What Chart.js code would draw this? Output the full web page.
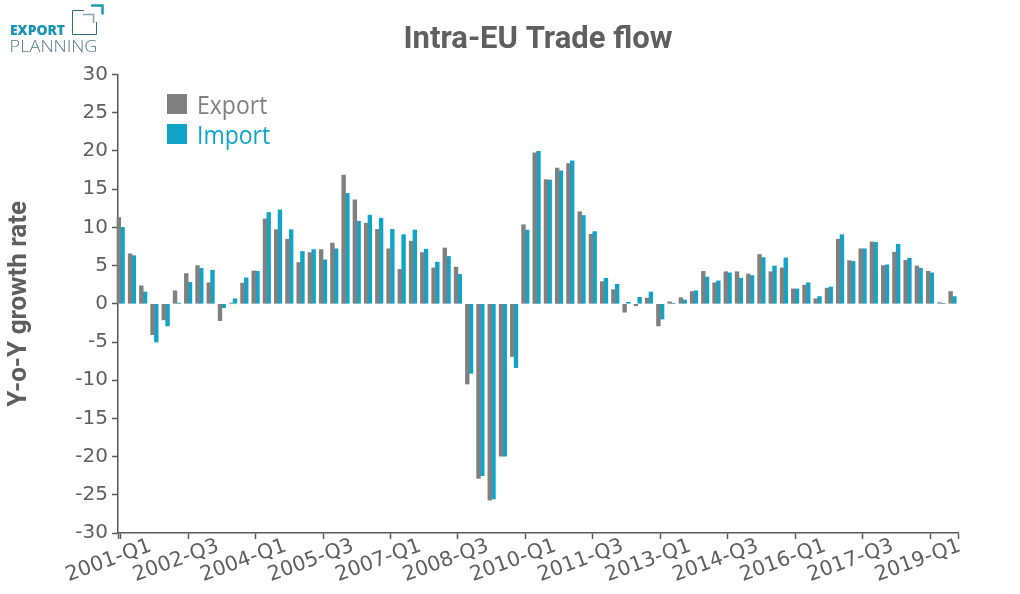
<!DOCTYPE html>
<html lang="en">
<head>
    <meta charset="UTF-8">
    <title>Intra-EU Trade flow</title>
    <script src="https://cdn.jsdelivr.net/npm/chart.js"></script>
    <style type="text/css">
        body{ margin: 0; background: #fff; }
        .wrap{ position: relative; width: 1020px; height: 594px; overflow: hidden; }
        #logo{ position: absolute; left: 0; top: 0; }
        .legend{ position: absolute; left: 167px; font: 23px "Open Sans"; line-height: 30px; height: 30px; }
        .legend i{ position: absolute; left: 0; top: 5px; width: 20px; height: 20px; }
        .legend span{ position: absolute; left: 30px; top: 0; transform: scaleY(1.08); }
    </style>
</head>
<body>
<div class="wrap">
    <canvas id="myChart" width="1020" height="594"></canvas>
    <svg id="logo" width="110" height="56">
        <path d="M91 5.5H102.5V14.5" fill="none" stroke="#1a9ab8" stroke-width="2.5"/>
        <path d="M83 14.5H93.5V23" fill="none" stroke="#8aa6b4" stroke-width="1.5"/>
        <path d="M84 10.5H72.5V34.5H96.5V22" fill="none" stroke="#2f6f8a" stroke-width="1"/>
        <text x="10" y="35" font-family="Open Sans" font-weight="800" font-size="13.5" fill="#1a94b4" textLength="55" lengthAdjust="spacingAndGlyphs">EXPORT</text>
        <text x="9.5" y="52" font-family="Open Sans" font-weight="300" font-size="16" fill="#55788c" textLength="88" lengthAdjust="spacingAndGlyphs">PLANNING</text>
    </svg>
    <div id="legend"></div>
</div>
<script>
    const quarters = [
        "2001-Q1","2001-Q2","2001-Q3","2001-Q4","2002-Q1","2002-Q2","2002-Q3","2002-Q4",
        "2003-Q1","2003-Q2","2003-Q3","2003-Q4","2004-Q1","2004-Q2","2004-Q3","2004-Q4",
        "2005-Q1","2005-Q2","2005-Q3","2005-Q4","2006-Q1","2006-Q2","2006-Q3","2006-Q4",
        "2007-Q1","2007-Q2","2007-Q3","2007-Q4","2008-Q1","2008-Q2","2008-Q3","2008-Q4",
        "2009-Q1","2009-Q2","2009-Q3","2009-Q4","2010-Q1","2010-Q2","2010-Q3","2010-Q4",
        "2011-Q1","2011-Q2","2011-Q3","2011-Q4","2012-Q1","2012-Q2","2012-Q3","2012-Q4",
        "2013-Q1","2013-Q2","2013-Q3","2013-Q4","2014-Q1","2014-Q2","2014-Q3","2014-Q4",
        "2015-Q1","2015-Q2","2015-Q3","2015-Q4","2016-Q1","2016-Q2","2016-Q3","2016-Q4",
        "2017-Q1","2017-Q2","2017-Q3","2017-Q4","2018-Q1","2018-Q2","2018-Q3","2018-Q4",
        "2019-Q1","2019-Q2","2019-Q3"
    ];
    const exportValues = [
        11.3,6.55,2.35,-4.05,-2.1,1.7,3.95,5.0,2.75,-2.2,0.1,2.7,4.3,11.1,9.7,8.45,5.4,6.7,
        7.1,7.95,16.85,13.6,10.55,9.75,7.2,4.5,8.2,6.7,4.7,7.3,4.8,-10.5,-22.85,-25.7,-19.95,-6.9,
        10.35,19.75,16.25,17.75,18.35,12.05,9.1,2.9,1.85,-1.1,-0.25,0.75,-2.9,0.25,0.8,1.6,4.25,2.75,4.2,4.2,
        3.9,6.45,4.2,4.7,1.95,2.45,0.65,2.05,8.45,5.65,7.2,8.1,5.0,6.75,5.7,4.95,4.25,0.15,1.6
    ];
    const importValues = [
        10.0,6.3,1.55,-5.0,-2.9,0.1,2.8,4.65,4.4,-0.5,0.65,3.4,4.25,11.95,12.3,9.7,6.85,7.1,
        5.75,7.2,14.45,10.8,11.6,11.2,9.75,9.05,9.65,7.15,5.45,6.2,3.85,-9.1,-22.5,-25.55,-19.95,-8.35,
        9.65,19.95,16.2,17.4,18.7,11.55,9.45,3.35,2.55,0.2,0.85,1.55,-2.0,0.05,0.5,1.7,3.5,3.0,4.05,3.35,
        3.7,6.05,4.95,6.0,1.95,2.75,0.95,2.2,9.05,5.55,7.2,8.05,5.1,7.8,5.95,4.65,4.05,0.05,0.95
    ];
    const tickIndexes = [0,6,12,18,24,30,36,42,48,54,60,66,72];
    const seriesNames = ["Export","Import"];
    const seriesColors = ["#808080","#10a5c8"];

    // the x range overshoots the first and last quarter like the original axis
    const xMin = -0.24, xMax = 74.49;

    seriesNames.forEach(function(name, i){
        const row = document.createElement('div');
        row.className = 'legend';
        row.style.top = (89 + i*30) + 'px';
        row.style.color = seriesColors[i];
        row.innerHTML = '<i style="background:' + seriesColors[i] + '"></i><span>' + name + '</span>';
        document.getElementById('legend').appendChild(row);
    });

    function toPoints(values){
        return values.map(function(v, i){ return {x: i, y: v}; });
    }

    const axisColor = '#595959';
    const textColor = '#5f5f5f';

    const myChart = new Chart(document.getElementById('myChart'), {
        type: 'bar',
        data: {
            datasets: [
                {label: seriesNames[0], data: toPoints(exportValues), backgroundColor: seriesColors[0], barThickness: 3.75, clip: false},
                {label: seriesNames[1], data: toPoints(importValues), backgroundColor: seriesColors[1], barThickness: 3.75, clip: false}
            ]
        },
        options: {
            responsive: false,
            animation: false,
            layout: {padding: {left: 0, right: 62, top: 0, bottom: 0}},
            plugins: {
                legend: {display: false},
                tooltip: {enabled: false},
                title: {
                    display: true,
                    text: 'Intra-EU Trade flow',
                    fullSize: false,
                    color: '#5f5f5f',
                    font: {family: 'Roboto', size: 31, weight: 'bold'},
                    padding: {top: 22, bottom: 15.4}
                }
            },
            scales: {
                x: {
                    type: 'linear',
                    bounds: 'data',
                    offset: false,
                    min: xMin,
                    max: xMax,
                    afterBuildTicks: function(scale){
                        scale.ticks = [xMin].concat(tickIndexes, [xMax]).map(function(v){ return {value: v}; });
                    },
                    afterFit: function(scale){ scale.height = 61; },
                    border: {color: axisColor, width: 1.5},
                    grid: {offset: false, drawOnChartArea: false, color: axisColor, tickLength: 6, tickWidth: 1.5},
                    ticks: {
                        autoSkip: false,
                        minRotation: 20,
                        maxRotation: 20,
                        labelOffset: 30,
                        padding: -5,
                        color: textColor,
                        font: {family: 'DejaVu Sans', size: 20.5},
                        callback: function(value){ return quarters[value] || ''; }
                    }
                },
                y: {
                    min: -30,
                    max: 30,
                    afterFit: function(scale){ scale.width = 118; },
                    border: {color: axisColor, width: 1.5},
                    grid: {drawOnChartArea: false, color: axisColor, tickLength: 6, tickWidth: 1.5},
                    ticks: {
                        stepSize: 5,
                        padding: 4,
                        color: textColor,
                        font: {family: 'DejaVu Sans', size: 20}
                    },
                    title: {
                        display: true,
                        text: 'Y-o-Y growth rate',
                        color: '#5f5f5f',
                        font: {family: 'Roboto', size: 26, weight: 'bold'},
                        padding: {top: 3.5, bottom: 0}
                    }
                }
            }
        }
    });
</script>
</body>
</html>
